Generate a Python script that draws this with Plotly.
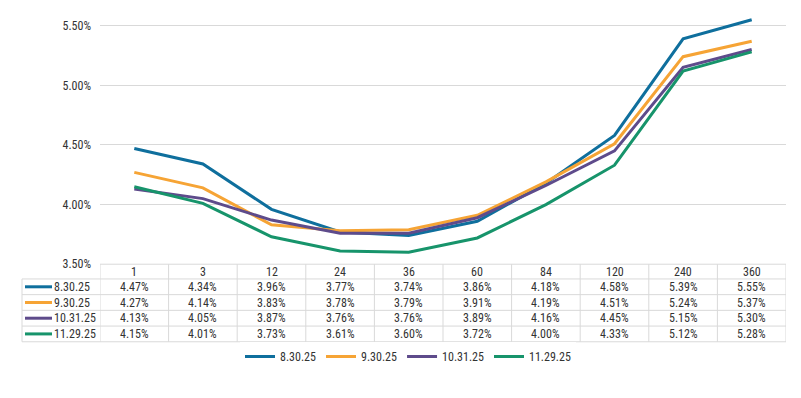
import plotly.graph_objects as go

# ---- data ----
categories = ["1", "3", "12", "24", "36", "60", "84", "120", "240", "360"]
series_names = ["8.30.25", "9.30.25", "10.31.25", "11.29.25"]
s_0830 = [4.47, 4.34, 3.96, 3.77, 3.74, 3.86, 4.18, 4.58, 5.39, 5.55]
s_0930 = [4.27, 4.14, 3.83, 3.78, 3.79, 3.91, 4.19, 4.51, 5.24, 5.37]
s_1031 = [4.13, 4.05, 3.87, 3.76, 3.76, 3.89, 4.16, 4.45, 5.15, 5.30]
s_1129 = [4.15, 4.01, 3.73, 3.61, 3.60, 3.72, 4.00, 4.33, 5.12, 5.28]
y_ticks = [3.5, 4.0, 4.5, 5.0, 5.5]

series_values = [s_0830, s_0930, s_1031, s_1129]
colors = ["#0f6f9d", "#f6a435", "#5e4b8b", "#17946b"]

# page is 801x398; default body margin is 8px, so the figure is 16px smaller
PAGE_W, PAGE_H = 801, 398
OFF = 8
W, H = PAGE_W - 2 * OFF, PAGE_H - 2 * OFF
FONT = "Liberation Sans Narrow, Arial Narrow, Roboto Condensed, sans-serif"
TXT = "#333333"
GRID = "#d9d9d9"

# layout geometry (page pixels)
plot_left, plot_right = 100, 786
y_bottom_px = 269      # 3.50% line
y_top_val = 5.6
px_per_unit = (269 - 26) / 2.0
y_top_px = y_bottom_px - (y_top_val - 3.5) * px_per_unit

def px_x(p):
    return (p - OFF) / W

def px_y(p):
    return 1 - (p - OFF) / H

fig = go.Figure()
n = len(categories)
xs = list(range(n))
for name, vals, c in zip(series_names, series_values, colors):
    fig.add_trace(go.Scatter(
        x=xs, y=vals, mode="lines", name=name,
        line=dict(color=c, width=3),
        hoverinfo="skip",
    ))

fig.update_layout(
    width=W, height=H,
    margin=dict(l=0, r=0, t=0, b=0),
    paper_bgcolor="white", plot_bgcolor="white",
    font=dict(family=FONT, size=12, color=TXT),
    showlegend=True,
    legend=dict(
        orientation="h", x=px_x(408), xanchor="center",
        y=px_y(363), yanchor="middle",
        font=dict(family=FONT, size=12, color=TXT),
        itemwidth=30, tracegroupgap=0,
    ),
    xaxis=dict(
        domain=[px_x(plot_left), px_x(plot_right)],
        range=[-0.5, n - 0.5],
        showgrid=False, zeroline=False, showticklabels=False,
        showline=False, ticks="",
    ),
    yaxis=dict(
        domain=[px_y(y_bottom_px), px_y(y_top_px)],
        range=[3.5, y_top_val],
        tickvals=y_ticks,
        ticktext=[f"{v:.2f}%" for v in y_ticks],
        showgrid=True, gridcolor=GRID, gridwidth=1,
        zeroline=False, showline=False, ticks="",
        ticklabelstandoff=8,
        tickfont=dict(family=FONT, size=12, color=TXT),
    ),
)

# ---- data table under the plot ----
row_px = [269, 284, 300, 316, 332, 348]   # horizontal borders
label_left = 22

shapes = []
for i, yp in enumerate(row_px):
    x0 = plot_left if i == 0 else label_left
    shapes.append(dict(type="line", xref="paper", yref="paper",
                       x0=px_x(x0), x1=px_x(plot_right),
                       y0=px_y(yp), y1=px_y(yp),
                       line=dict(color=GRID, width=1)))
for k in range(n + 1):
    shapes.append(dict(type="line", xref="x", yref="paper",
                       x0=k - 0.5, x1=k - 0.5,
                       y0=px_y(row_px[0]), y1=px_y(row_px[-1]),
                       line=dict(color=GRID, width=1)))
shapes.append(dict(type="line", xref="paper", yref="paper",
                   x0=px_x(label_left), x1=px_x(label_left),
                   y0=px_y(row_px[1]), y1=px_y(row_px[-1]),
                   line=dict(color=GRID, width=1)))

annotations = []
hdr_mid = (row_px[0] + row_px[1]) / 2
for k, cat in enumerate(categories):
    annotations.append(dict(x=k, y=px_y(hdr_mid), xref="x", yref="paper",
                            text=cat, showarrow=False,
                            xanchor="center", yanchor="middle",
                            font=dict(family=FONT, size=12, color=TXT)))
for r, (name, vals, c) in enumerate(zip(series_names, series_values, colors)):
    mid = (row_px[r + 1] + row_px[r + 2]) / 2
    for k, v in enumerate(vals):
        annotations.append(dict(x=k, y=px_y(mid), xref="x", yref="paper",
                                text=f"{v:.2f}%", showarrow=False,
                                xanchor="center", yanchor="middle",
                                font=dict(family=FONT, size=12, color=TXT)))
    shapes.append(dict(type="line", xref="paper", yref="paper",
                       x0=px_x(25), x1=px_x(52),
                       y0=px_y(mid), y1=px_y(mid),
                       line=dict(color=c, width=3)))
    annotations.append(dict(x=px_x(52), y=px_y(mid), xref="paper", yref="paper",
                            text=name, showarrow=False,
                            xanchor="left", yanchor="middle",
                            font=dict(family=FONT, size=12, color=TXT)))

fig.update_layout(shapes=shapes, annotations=annotations)

fig.write_html("out.html", config={"displayModeBar": False, "responsive": False})
